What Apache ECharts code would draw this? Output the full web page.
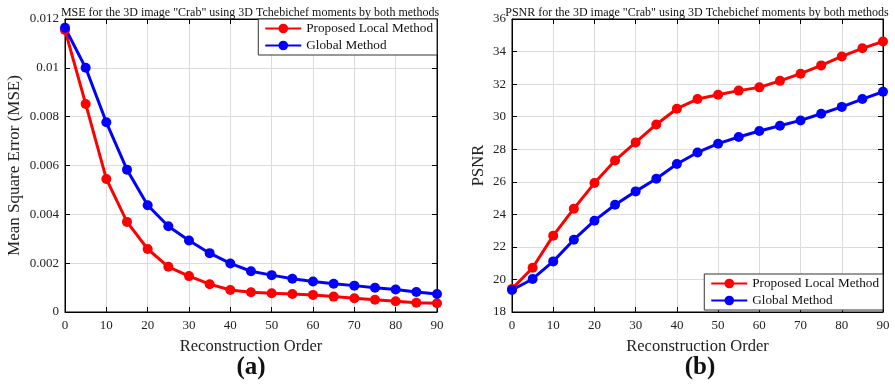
<!DOCTYPE html>
<html><head><meta charset="utf-8">
<script src="https://cdn.jsdelivr.net/npm/echarts@6/dist/echarts.min.js"></script>
<style>html,body{margin:0;padding:0;background:#fff}#c{width:895px;height:386px}</style>
</head><body><div id="c"></div>
<script>
const orders = [0,5,10,15,20,25,30,35,40,45,50,55,60,65,70,75,80,85,90];
const mseLocal = [0.01155,0.00852,0.00545,0.00369,0.00258,0.00185,0.00147,0.00114,0.00090,0.00081,0.00077,0.00074,0.00070,0.00063,0.00056,0.00050,0.00044,0.00038,0.00036];
const mseGlobal = [0.01164,0.01000,0.00777,0.00583,0.00437,0.00351,0.00293,0.00241,0.00199,0.00167,0.00151,0.00136,0.00125,0.00116,0.00108,0.00099,0.00092,0.00082,0.00074];
const psnrLocal = [19.42,20.72,22.69,24.35,25.92,27.31,28.42,29.52,30.49,31.08,31.35,31.60,31.80,32.20,32.64,33.15,33.70,34.20,34.62];
const psnrGlobal = [19.35,20.03,21.11,22.44,23.61,24.59,25.41,26.19,27.09,27.80,28.34,28.75,29.12,29.44,29.77,30.18,30.60,31.08,31.53];
const nameLocal = 'Proposed Local Method';
const nameGlobal = 'Global Method';
const titleA = 'MSE for the 3D image "Crab" using 3D Tchebichef moments by both methods';
const titleB = 'PSNR for the 3D image "Crab" using 3D Tchebichef moments by both methods';

const FONT = 'Liberation Serif';
const grids = [
  {left:65, top:19, width:372, height:293, show:true, borderColor:'#000', borderWidth:1},
  {left:512, top:19, width:371, height:293, show:true, borderColor:'#000', borderWidth:1}
];
function xAx(g, pos, labels){
  return {type:'value', gridIndex:g, position:pos, min:0, max:90, interval:10,
    axisLine:{show:true, onZero:false, lineStyle:{color:'#000', width:1}},
    axisTick:{show:true, inside:true, length:5, lineStyle:{color:'#000'}},
    axisLabel:{show:labels, color:'#222', fontFamily:FONT, fontSize:13, margin:7},
    splitLine:{show:labels, lineStyle:{color:'#dcdcdc', width:1}},
    name: labels ? 'Reconstruction Order' : '', nameLocation:'middle', nameGap:26,
    nameTextStyle:{color:'#222', fontFamily:FONT, fontSize:16.5}};
}
function yAx(g, pos, labels, min, max, interval, name, gap, fs){
  return {type:'value', gridIndex:g, position:pos, min:min, max:max, interval:interval,
    axisLine:{show:true, onZero:false, lineStyle:{color:'#000', width:1}},
    axisTick:{show:true, inside:true, length:5, lineStyle:{color:'#000'}},
    axisLabel:{show:labels, color:'#222', fontFamily:FONT, fontSize:13, margin:6},
    splitLine:{show:labels, lineStyle:{color:'#dcdcdc', width:1}},
    name: labels ? name : '', nameLocation:'middle', nameGap:gap,
    nameTextStyle:{color:'#222', fontFamily:FONT, fontSize:fs || 16}};
}
function ser(name, data, color, xi, yi){
  return {type:'line', name:name, xAxisIndex:xi, yAxisIndex:yi,
    data: orders.map((o,i)=>[o, data[i]]),
    symbol:'circle', symbolSize:10, showSymbol:true,
    lineStyle:{color:color, width:3}, itemStyle:{color:color},
    emphasis:{disabled:true}, animation:false, z:3};
}
const legendCommon = {orient:'vertical', backgroundColor:'#fff', borderColor:'#333', borderWidth:1,
  padding:[3,4,3,6], itemGap:4, itemWidth:36, itemHeight:12,
  textStyle:{fontFamily:FONT, fontSize:13.2, color:'#111'}, data:[nameLocal, nameGlobal]};

const chart = echarts.init(document.getElementById('c'), null, {renderer:'canvas'});
chart.setOption({
  animation:false,
  backgroundColor:'#fff',
  title:[
    {text:titleA, left:245, top:2, textAlign:'center', textStyle:{fontFamily:FONT, fontSize:12, fontWeight:'normal', color:'#111'}},
    {text:titleB, left:692, top:2, textAlign:'center', textStyle:{fontFamily:FONT, fontSize:12, fontWeight:'normal', color:'#111'}},
    {text:'(a)', left:246, top:350, textAlign:'center', textStyle:{fontFamily:FONT, fontSize:25, fontWeight:'bold', color:'#111'}},
    {text:'(b)', left:695, top:350, textAlign:'center', textStyle:{fontFamily:FONT, fontSize:25, fontWeight:'bold', color:'#111'}}
  ],
  grid: grids,
  xAxis:[xAx(0,'bottom',true), xAx(0,'top',false), xAx(1,'bottom',true), xAx(1,'top',false)],
  yAxis:[yAx(0,'left',true,0,0.012,0.002,'Mean Square Error (MSE)',42,17), yAx(0,'right',false,0,0.012,0.002,'',0),
         yAx(1,'left',true,18,36,2,'PSNR',25,16.5), yAx(1,'right',false,18,36,2,'',0)],
  legend:[
    Object.assign({}, legendCommon, {right:458, top:19}),
    Object.assign({}, legendCommon, {right:12, top:274})
  ],
  series:[
    ser(nameLocal, mseLocal, '#ff0000', 0, 0),
    ser(nameGlobal, mseGlobal, '#0000ff', 0, 0),
    ser(nameLocal, psnrLocal, '#ff0000', 2, 2),
    ser(nameGlobal, psnrGlobal, '#0000ff', 2, 2)
  ]
});
</script></body></html>
